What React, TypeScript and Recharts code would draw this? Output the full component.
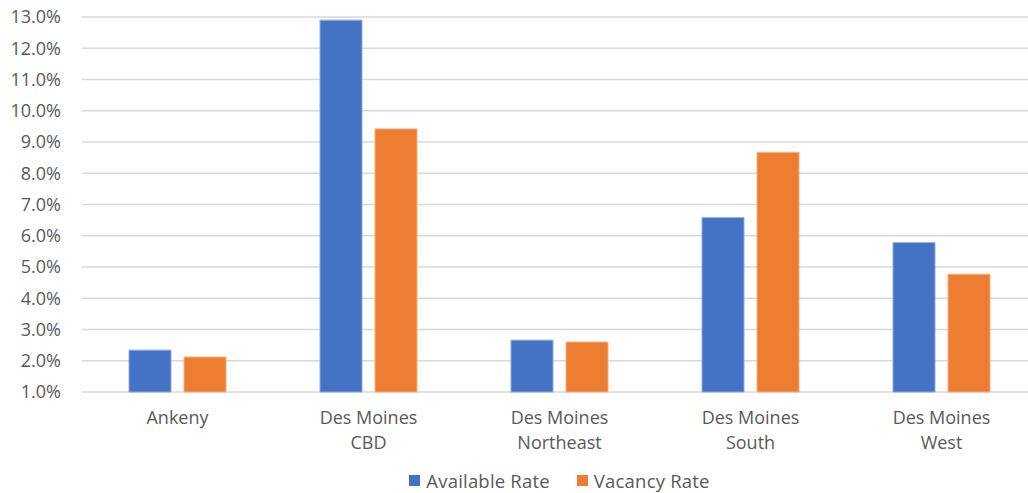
import {
  BarChart,
  Bar,
  XAxis,
  YAxis,
  CartesianGrid,
  Legend,
} from 'recharts';

const submarkets = ['Ankeny', 'Des Moines CBD', 'Des Moines Northeast', 'Des Moines South', 'Des Moines West'];
const availableRate = [2.34, 12.9, 2.66, 6.58, 5.78];
const vacancyRate = [2.12, 9.42, 2.6, 8.67, 4.77];
const yTicks = [1, 2, 3, 4, 5, 6, 7, 8, 9, 10, 11, 12, 13];

const BLUE = '#4472C4';
const ORANGE = '#ED7D31';
const TEXT = '#595959';
const FONT = '"Open Sans", "Noto Sans", sans-serif';

const chartData = submarkets.map((name, i) => ({
  name,
  available: availableRate[i],
  vacancy: vacancyRate[i],
}));

// "Des Moines CBD" -> ["Des Moines", "CBD"], like the wrapped category labels
function splitLabel(label: string): string[] {
  const prefix = 'Des Moines ';
  if (label.startsWith(prefix)) return ['Des Moines', label.slice(prefix.length)];
  return [label];
}

function CategoryTick(props: any) {
  const { x, y, payload } = props;
  const lines = splitLabel(payload.value);
  return (
    <text x={x} y={y} textAnchor="middle" fill={TEXT} fontSize={18} fontFamily={FONT}>
      {lines.map((line, i) => (
        <tspan key={i} x={x} dy={i === 0 ? 24 : 25}>
          {line}
        </tspan>
      ))}
    </text>
  );
}

const legendItems = [
  { label: 'Available Rate', color: BLUE },
  { label: 'Vacancy Rate', color: ORANGE },
];

function ChartLegend() {
  return (
    <div
      style={{
        height: 26,
        paddingLeft: 82,
        display: 'flex',
        justifyContent: 'center',
        alignItems: 'center',
        gap: 27,
        fontFamily: FONT,
        fontSize: 18.5,
        letterSpacing: 0.2,
        color: TEXT,
      }}
    >
      {legendItems.map((item) => (
        <span key={item.label} style={{ display: 'flex', alignItems: 'center' }}>
          <span
            style={{
              width: 11,
              height: 11,
              background: item.color,
              display: 'inline-block',
              marginRight: 6,
            }}
          />
          {item.label}
        </span>
      ))}
    </div>
  );
}

export default function App() {
  return (
    <div style={{ width: 1028, height: 493, overflow: 'hidden', background: '#fff' }}>
      <style>{'body { margin: 0; }'}</style>
      <BarChart
        width={1037}
        height={493}
        data={chartData}
        margin={{ top: 17, right: 0, bottom: 0, left: 0 }}
        barSize={42}
        barGap={13}
      >
        <CartesianGrid vertical={false} stroke="#D9D9D9" strokeWidth={1.5} />
        <XAxis
          dataKey="name"
          height={75}
          axisLine={false}
          tickLine={false}
          interval={0}
          tick={<CategoryTick />}
        />
        <YAxis
          width={82}
          domain={[1, 13]}
          ticks={yTicks}
          axisLine={false}
          tickLine={false}
          tickSize={6}
          tickMargin={15}
          tickFormatter={(v: number) => `${v.toFixed(1)}%`}
          tick={{ fill: TEXT, fontSize: 18, fontFamily: FONT }}
        />
        <Legend verticalAlign="bottom" content={<ChartLegend />} />
        <Bar dataKey="available" name="Available Rate" fill={BLUE} stroke="#8FAADC" strokeWidth={1} isAnimationActive={false} />
        <Bar dataKey="vacancy" name="Vacancy Rate" fill={ORANGE} stroke="#F4B183" strokeWidth={1} isAnimationActive={false} />
      </BarChart>
    </div>
  );
}
